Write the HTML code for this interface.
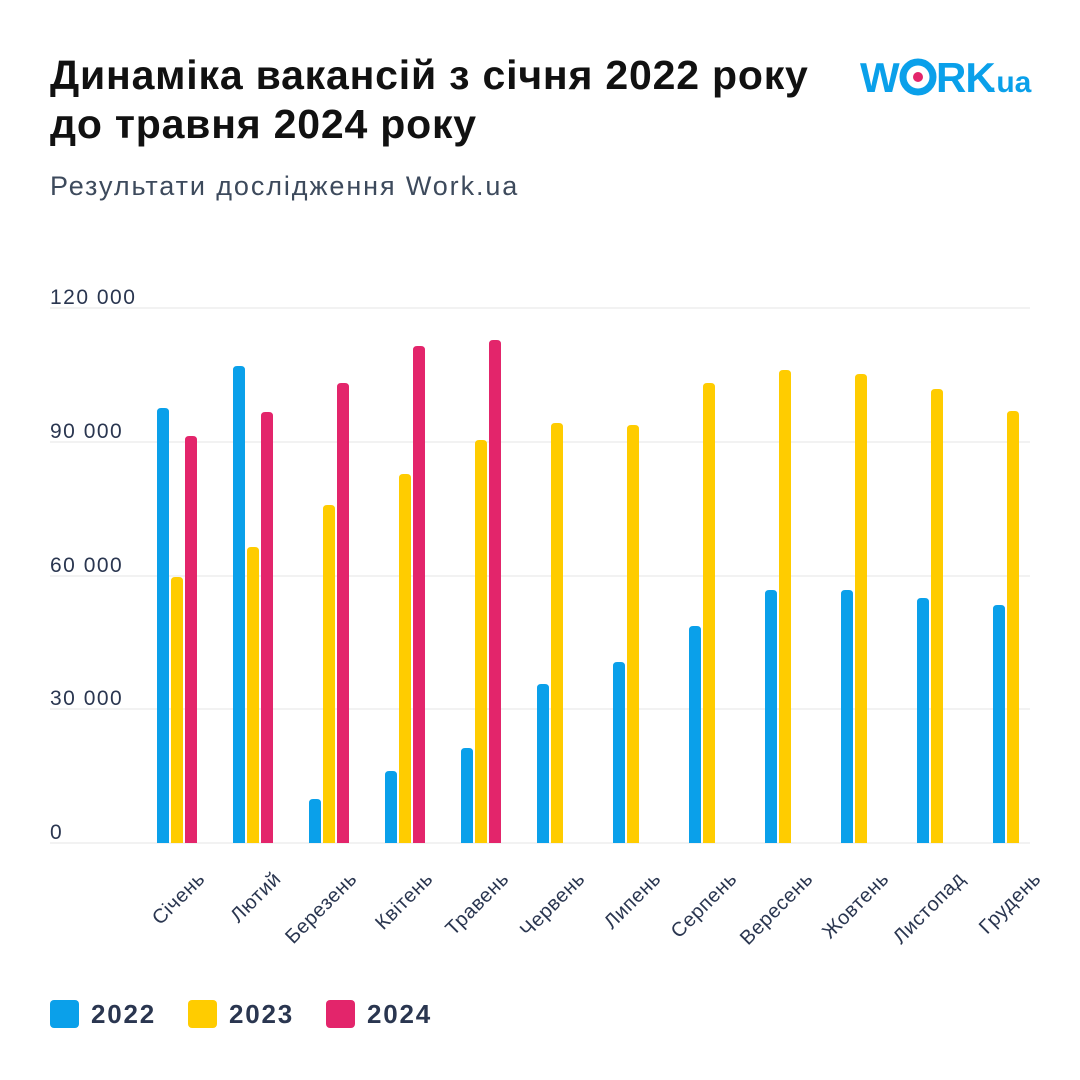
<!DOCTYPE html>
<html><head><meta charset="utf-8"><style>
body{margin:0;background:#fff;}
svg{display:block;font-family:"Liberation Sans","DejaVu Sans",sans-serif;}
</style></head><body>
<svg width="1080" height="1080" viewBox="0 0 1080 1080" xmlns="http://www.w3.org/2000/svg">
<rect width="1080" height="1080" fill="#fff"/>
<text x="50" y="89" font-size="41" font-weight="bold" fill="#111" letter-spacing="0.8">Динаміка вакансій з січня 2022 року</text>
<text x="50" y="138" font-size="41" font-weight="bold" fill="#111" letter-spacing="0.8">до травня 2024 року</text>
<text x="50" y="195" font-size="27" fill="#3d4a5c" letter-spacing="1.9">Результати дослідження Work.ua</text>
<g font-weight="bold" fill="#0aa0ea">
<text x="860" y="92" font-size="42" letter-spacing="-1">W</text>
<circle cx="918" cy="77" r="15" fill="none" stroke="#0aa0ea" stroke-width="7"/>
<circle cx="918" cy="77" r="5" fill="#e3256b"/>
<text x="936" y="92" font-size="42" letter-spacing="-1">RK</text>
<text x="988" y="92" font-size="30">.ua</text>
</g>
<g stroke="#e6e6e6" stroke-width="1">
<line x1="50" y1="308" x2="1030" y2="308"/>
<line x1="50" y1="442" x2="1030" y2="442"/>
<line x1="50" y1="576" x2="1030" y2="576"/>
<line x1="50" y1="709" x2="1030" y2="709"/>
<line x1="50" y1="843" x2="1030" y2="843"/>
</g>
<g font-size="21" fill="#2a3650" letter-spacing="1.5">
<text x="50" y="304">120 000</text>
<text x="50" y="438">90 000</text>
<text x="50" y="572">60 000</text>
<text x="50" y="705">30 000</text>
<text x="50" y="839">0</text>
</g>
<g id="bars"></g>
<g font-size="20" fill="#2a3650" text-anchor="end" id="labels" letter-spacing="0.5"></g>
<rect x="50" y="1000" width="29" height="28" rx="4" fill="#0aa0ea"/>
<text x="91" y="1023" font-size="26" font-weight="bold" fill="#2a3650" letter-spacing="1.8">2022</text>
<rect x="188" y="1000" width="29" height="28" rx="4" fill="#ffcc00"/>
<text x="229" y="1023" font-size="26" font-weight="bold" fill="#2a3650" letter-spacing="1.8">2023</text>
<rect x="326" y="1000" width="29" height="28" rx="4" fill="#e3256b"/>
<text x="367" y="1023" font-size="26" font-weight="bold" fill="#2a3650" letter-spacing="1.8">2024</text>
</svg>
<script>
var B=[408,366,799,771,748,684,662,626,590,590,598,605];
var Y=[577,547,505,474,440,423,425,383,370,374,389,411];
var P=[436,412,383,346,340];
var M=["Січень","Лютий","Березень","Квітень","Травень","Червень","Липень","Серпень","Вересень","Жовтень","Листопад","Грудень"];
var ns="http://www.w3.org/2000/svg",g=document.getElementById("bars"),l=document.getElementById("labels");
function bar(x,t,c){var p=document.createElementNS(ns,"path");p.setAttribute("d","M"+x+" 843 V"+(t+4)+" Q"+x+" "+t+" "+(x+4)+" "+t+" H"+(x+8)+" Q"+(x+12)+" "+t+" "+(x+12)+" "+(t+4)+" V843 Z");p.setAttribute("fill",c);g.appendChild(p);}
for(var i=0;i<12;i++){var x=157+76*i;bar(x,B[i],"#0aa0ea");bar(x+14,Y[i],"#ffcc00");if(i<5)bar(x+28,P[i],"#e3256b");
var t=document.createElementNS(ns,"text");var tx=206+76*i,ty=880;t.setAttribute("x",tx);t.setAttribute("y",ty);t.setAttribute("transform","rotate(-45 "+tx+" "+ty+")");t.textContent=M[i];l.appendChild(t);}
</script>
</body></html>
